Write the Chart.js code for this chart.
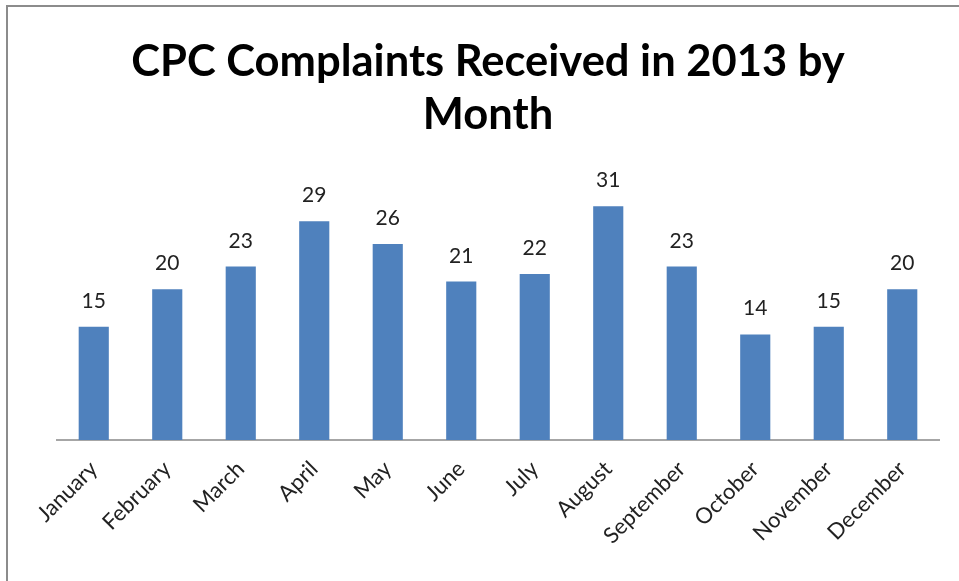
<!DOCTYPE html>
<html>
<head>
<meta charset="utf-8">
<script src="https://cdn.jsdelivr.net/npm/chart.js@4/dist/chart.umd.min.js"></script>
<style>
  html, body { margin: 0; padding: 0; background: #fff; }
  #wrap { position: relative; width: 959px; height: 581px; overflow: hidden; }
  #frame { position: absolute; left: 6px; top: 5px; width: 980px; height: 600px;
           border-left: 2px solid #8c8c8c; border-top: 2px solid #8c8c8c; }
  #chart { position: absolute; left: 0; top: 0; }
</style>
</head>
<body>
<div id="wrap">
  <div id="frame"></div>
  <canvas id="chart" width="959" height="581"></canvas>
</div>
<script>
const months = ['January', 'February', 'March', 'April', 'May', 'June',
  'July', 'August', 'September', 'October', 'November', 'December'];
const complaints = [15, 20, 23, 29, 26, 21, 22, 31, 23, 14, 15, 20];
const titleLines = ['CPC Complaints Received in 2013 by', 'Month'];

const FONT = 'Lato, Calibri, "Open Sans", sans-serif';

// values above the bars
const barLabels = {
  id: 'barLabels',
  afterDatasetsDraw(chart) {
    const ctx = chart.ctx;
    const meta = chart.getDatasetMeta(0);
    ctx.save();
    ctx.font = '21px ' + FONT;
    ctx.fillStyle = '#222';
    ctx.textAlign = 'center';
    ctx.textBaseline = 'alphabetic';
    meta.data.forEach((bar, i) => {
      ctx.fillText(complaints[i], bar.x, bar.y - 19);
    });
    ctx.restore();
  }
};

// title is centred on the whole frame, not on the plot area
const frameTitle = {
  id: 'frameTitle',
  afterDraw(chart) {
    const ctx = chart.ctx;
    ctx.save();
    ctx.font = 'bold 43.5px ' + FONT;
    ctx.fillStyle = '#000';
    ctx.textAlign = 'center';
    ctx.textBaseline = 'middle';
    titleLines.forEach((line, i) => {
      ctx.fillText(line, 488, 62 + i * 53);
    });
    ctx.restore();
  }
};

new Chart(document.getElementById('chart'), {
  type: 'bar',
  data: {
    labels: months,
    datasets: [{
      data: complaints,
      backgroundColor: '#4f81bd',
      borderWidth: 0,
      categoryPercentage: 1,
      barPercentage: 0.41
    }]
  },
  options: {
    responsive: false,
    animation: false,
    layout: { padding: { left: 57, right: 20, top: 176, bottom: 0 } },
    plugins: {
      legend: { display: false },
      tooltip: { enabled: false },
      title: { display: false }
    },
    scales: {
      x: {
        grid: { display: false },
        border: { display: true, color: '#a6a6a6', width: 2 },
        ticks: {
          color: '#222',
          font: { family: FONT, size: 22 },
          maxRotation: 45,
          minRotation: 45,
          autoSkip: false,
          padding: 8
        },
        afterFit(scale) { scale.height = 141; }
      },
      y: {
        display: false,
        min: 0,
        max: 35
      }
    }
  },
  plugins: [barLabels, frameTitle]
});
</script>
</body>
</html>
